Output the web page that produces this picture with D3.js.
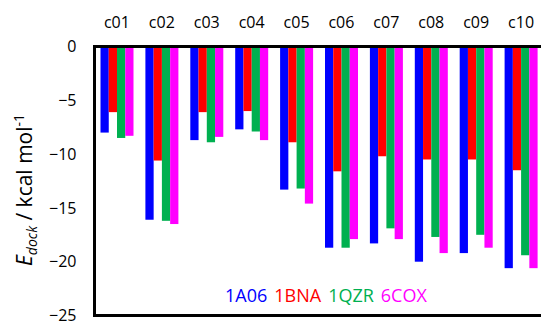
<!DOCTYPE html>
<html>
<head>
<meta charset="utf-8">
<script src="https://cdn.jsdelivr.net/npm/d3@7"></script>
<style>
  body { margin: 0; background: #fff; }
  text { font-family: "Open Sans", sans-serif; }
</style>
</head>
<body>
<script>
var categorieen = ["c01", "c02", "c03", "c04", "c05", "c06", "c07", "c08", "c09", "c10"];
var reeksen = ["1A06", "1BNA", "1QZR", "6COX"];
var kleuren = ["#0000ff", "#ff0000", "#00b050", "#ff00ff"];

var waarden1A06 = [-8.0, -16.1, -8.7, -7.7, -13.3, -18.7, -18.3, -20.0, -19.2, -20.6];
var waarden1BNA = [-6.1, -10.6, -6.1, -6.0, -8.9, -11.6, -10.2, -10.5, -10.5, -11.5];
var waarden1QZR = [-8.5, -16.2, -8.9, -7.9, -13.2, -18.7, -16.9, -17.7, -17.5, -19.4];
var waarden6COX = [-8.3, -16.5, -8.4, -8.7, -14.6, -17.9, -17.9, -19.2, -18.7, -20.6];

var yTicks = [0, -5, -10, -15, -20, -25];

var alleWaarden = [waarden1A06, waarden1BNA, waarden1QZR, waarden6COX];

// afmetingen
var breedte = 541;
var hoogte = 322;
var marge = {boven: 46.5, beneden: 315.5, links: 94.5};

var svg = d3.select("body").append("svg")
    .attr("width", breedte)
    .attr("height", hoogte);

// schalen
var x = d3.scaleBand()
    .domain(categorieen)
    .range([marge.links, marge.links + 449]);

var xReeks = d3.scaleBand()
    .domain(reeksen)
    .range([6, 39]);

var y = d3.scaleLinear()
    .domain([0, -25])
    .range([marge.boven, marge.beneden]);

// staven per reeks
reeksen.forEach(function(reeks, r) {
  svg.append("g")
    .selectAll("rect")
    .data(alleWaarden[r])
    .enter()
    .append("rect")
      .attr("x", function(d, i) { return x(categorieen[i]) + xReeks(reeks); })
      .attr("y", y(0))
      .attr("width", xReeks.bandwidth())
      .attr("height", function(d) { return y(d) - y(0); })
      .attr("fill", kleuren[r]);
});

// y-as waarden
var asY = d3.axisLeft(y)
    .tickValues(yTicks)
    .tickSize(0)
    .tickPadding(18)
    .tickFormat(d3.format("d"));

var gY = svg.append("g")
    .attr("transform", "translate(" + marge.links + ",0)")
    .call(asY);
gY.select(".domain").remove();
gY.selectAll("text")
    .attr("font-family", "Open Sans")
    .attr("font-size", "16px")
    .attr("fill", "#000");

// categorie labels bovenaan
svg.append("g")
  .selectAll("text")
  .data(categorieen)
  .enter()
  .append("text")
    .attr("x", function(d) { return x(d) + x.bandwidth() / 2; })
    .attr("y", 28)
    .attr("text-anchor", "middle")
    .attr("font-size", "16px")
    .text(function(d) { return d; });

// assen lijnen
svg.append("line")
    .attr("x1", marge.links).attr("x2", breedte)
    .attr("y1", y(0)).attr("y2", y(0))
    .attr("stroke", "#000").attr("stroke-width", 3);
svg.append("line")
    .attr("x1", marge.links).attr("x2", breedte)
    .attr("y1", y(-25)).attr("y2", y(-25))
    .attr("stroke", "#000").attr("stroke-width", 3);
svg.append("line")
    .attr("x1", marge.links).attr("x2", marge.links)
    .attr("y1", y(0) - 1.5).attr("y2", y(-25) + 1.5)
    .attr("stroke", "#000").attr("stroke-width", 3);

// titel y-as
var titel = svg.append("text")
    .attr("transform", "translate(32,190) rotate(-90)")
    .attr("text-anchor", "middle")
    .attr("font-size", "21px");
titel.append("tspan").attr("font-style", "italic").text("E");
titel.append("tspan").attr("font-style", "italic").attr("font-size", "14px").attr("dy", 5).text("dock");
titel.append("tspan").attr("dy", -5).text(" / kcal mol");
titel.append("tspan").attr("font-size", "14px").attr("dy", -8).text("-1");

// legenda, woorden achter elkaar
var legendaX = 225;
reeksen.forEach(function(reeks, r) {
  var t = svg.append("text")
    .attr("x", legendaX)
    .attr("y", 302)
    .attr("font-size", "18px")
    .attr("fill", kleuren[r])
    .text(reeks);
  legendaX += t.node().getComputedTextLength() + 7;
});
</script>
</body>
</html>
